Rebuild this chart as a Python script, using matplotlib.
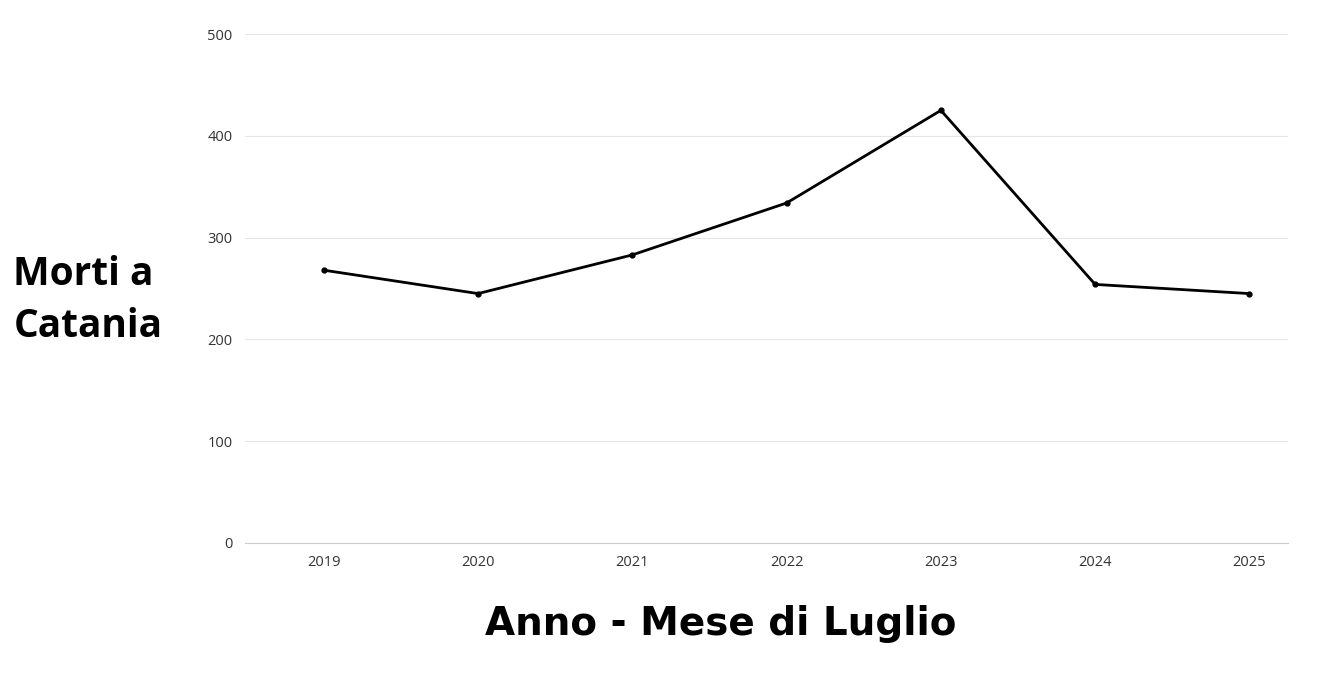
import matplotlib.pyplot as plt

years = [2019, 2020, 2021, 2022, 2023, 2024, 2025]
deaths = [268, 245, 283, 334, 425, 254, 245]
yticks = [0, 100, 200, 300, 400, 500]

fig = plt.figure(figsize=(13.32, 6.75), dpi=100)
ax = fig.add_axes([0.184, 0.1956, 0.783, 0.754])
ax.plot(years, deaths, color="black", lw=2, marker="o", ms=3.5)
ax.set_xlim(2018.49, 2025.25)
ax.set_ylim(0, 500)
ax.set_xticks(years)
ax.set_yticks(yticks)
ax.tick_params(length=0, labelsize=10.5, colors="#333333", pad=9)
for lab in ax.get_xticklabels() + ax.get_yticklabels():
    lab.set_family("Open Sans")
ax.grid(axis="y", color="#e6e6e6", lw=0.8)
ax.set_axisbelow(True)
for s in ["top", "right", "left"]:
    ax.spines[s].set_visible(False)
ax.spines["bottom"].set_color("#cccccc")

fig.text(0.01, 0.555, "Morti a\nCatania", ha="left", va="center",
         fontsize=28, fontweight="bold", family="Open Sans", linespacing=1.45)
fig.text(0.541, 0.075, "Anno - Mese di Luglio", ha="center", va="center",
         fontsize=28, fontweight="heavy", family="DejaVu Sans")

fig.savefig("out.png", dpi=100)
